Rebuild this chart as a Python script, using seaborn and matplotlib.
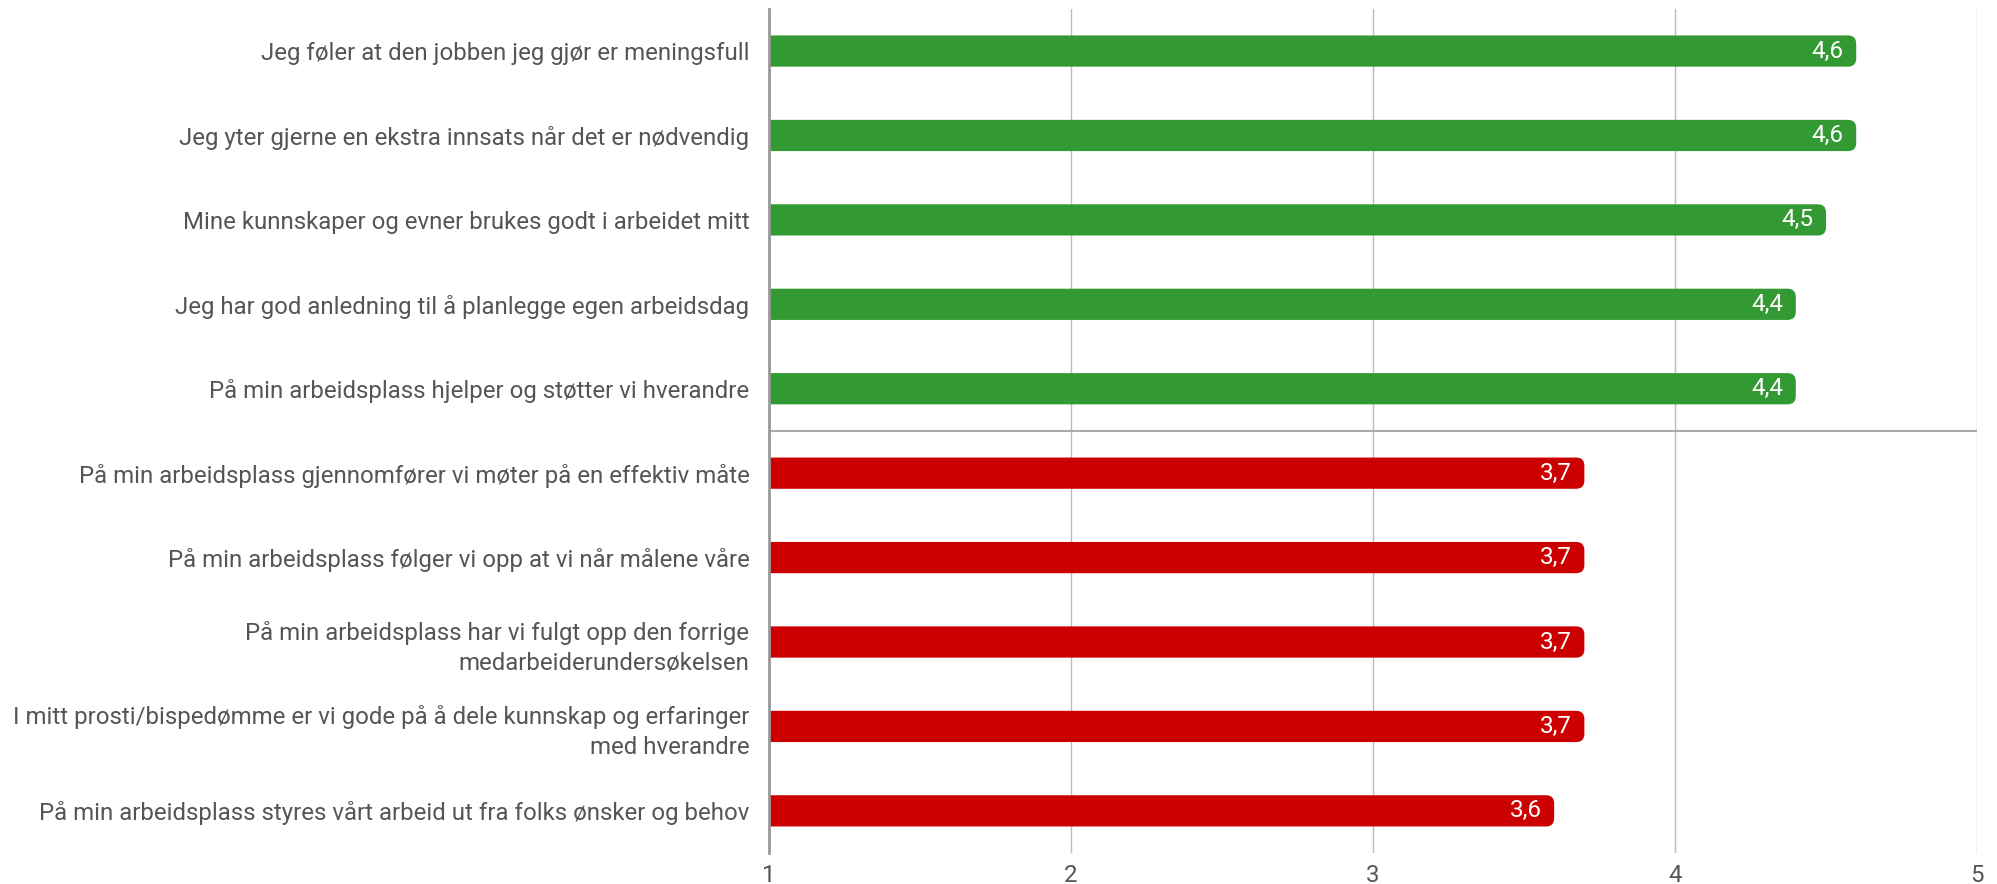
import numpy as np
import pandas as pd
import matplotlib.pyplot as plt
import seaborn as sns
from matplotlib.patches import FancyBboxPatch

LABELS = [
    "Jeg føler at den jobben jeg gjør er meningsfull",
    "Jeg yter gjerne en ekstra innsats når det er nødvendig",
    "Mine kunnskaper og evner brukes godt i arbeidet mitt",
    "Jeg har god anledning til å planlegge egen arbeidsdag",
    "På min arbeidsplass hjelper og støtter vi hverandre",
    "På min arbeidsplass gjennomfører vi møter på en effektiv måte",
    "På min arbeidsplass følger vi opp at vi når målene våre",
    "På min arbeidsplass har vi fulgt opp den forrige\nmedarbeiderundersøkelsen",
    "I mitt prosti/bispedømme er vi gode på å dele kunnskap og erfaringer\nmed hverandre",
    "På min arbeidsplass styres vårt arbeid ut fra folks ønsker og behov",
]
VALUES = [4.6, 4.6, 4.5, 4.4, 4.4, 3.7, 3.7, 3.7, 3.7, 3.6]
GROUPS = ["top"] * 5 + ["bottom"] * 5
XTICKS = [1, 2, 3, 4, 5]

PALETTE = {"top": "#339933", "bottom": "#cc0000"}
TEXT = "#555555"

df = pd.DataFrame({"label": LABELS, "value": VALUES, "group": GROUPS})

sns.set_theme(style="white")
plt.rcParams["font.family"] = ["Roboto", "DejaVu Sans"]

fig = plt.figure(figsize=(19.97, 8.84), dpi=100)
ax = fig.add_axes([0.385, 0.035, 0.605, 0.955])

sns.barplot(data=df, x="value", y="label", hue="group", palette=PALETTE,
            dodge=False, width=0.37, saturation=1, legend=False, ax=ax,
            zorder=3)

# swap plain bars for bars with rounded ends
for p in list(ax.patches):
    if p.get_width() <= 0:
        continue
    x0, y0 = p.get_x(), p.get_y()
    w, h = p.get_width(), p.get_height()
    r = 0.027
    rb = FancyBboxPatch((x0, y0), w, h,
                        boxstyle=f"round,pad=0,rounding_size={r}",
                        mutation_aspect=3.6,
                        facecolor=p.get_facecolor(), edgecolor="none",
                        zorder=3)
    p.remove()
    ax.add_patch(rb)

# value labels
for i, v in enumerate(VALUES):
    ax.text(v - 0.042, i, f"{v:.1f}".replace(".", ","), color="white",
            ha="right", va="center", fontsize=17.5, zorder=4)

ax.set_xlim(1, 5)
ax.set_ylim(len(LABELS) - 0.5, -0.5)
ax.set_xticks(XTICKS)
ax.set_xticklabels([str(t) for t in XTICKS])
ax.grid(axis="x", color="#bbbbbb", linewidth=1, zorder=0)
ax.set_axisbelow(True)

# separator between the two groups
ax.axhline(4.5, color="#aaaaaa", linewidth=1.5, zorder=2)

for s in ["top", "right", "bottom"]:
    ax.spines[s].set_visible(False)
ax.spines["left"].set_color("#999999")
ax.spines["left"].set_linewidth(2)
ax.spines["left"].set_zorder(5)

ax.set_xlabel("")
ax.set_ylabel("")
ax.tick_params(axis="y", length=0, pad=14, labelsize=17.3, labelcolor=TEXT)
ax.tick_params(axis="x", length=0, pad=8, labelsize=17.3, labelcolor=TEXT)
for t in ax.get_yticklabels():
    t.set_multialignment("right")
    t.set_linespacing(1.35)

plt.savefig("out.png", dpi=100)
